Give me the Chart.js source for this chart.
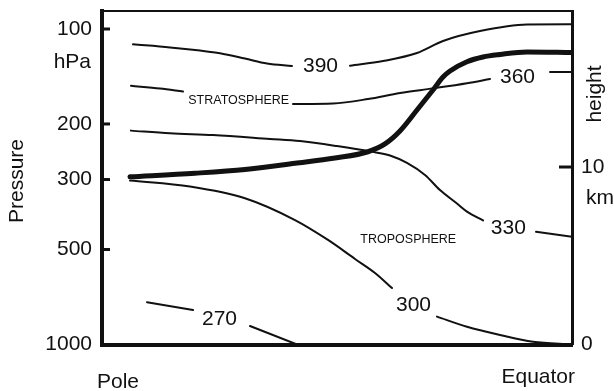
<!DOCTYPE html>
<html>
<head>
<meta charset="utf-8">
<script src="https://cdn.jsdelivr.net/npm/chart.js@4"></script>
<style>
  html, body { margin: 0; padding: 0; background: #fff; }
  #wrap { width: 614px; height: 391px; }
</style>
</head>
<body>
<div id="wrap"><canvas id="c" width="614" height="391"></canvas></div>
<script>
// Meridional cross-section from pole to equator: isentropes (K) and the tropopause.
const FONT = "'Liberation Sans', Arial, Helvetica, sans-serif";
const INK = '#111';

// Height axis is linear in km; pressure follows p = 1000 hPa * exp(-z / H).
const SCALE_HEIGHT_KM = 7.72;
const TOP_KM = 18.79;

// Latitude (deg) and height (km) along each isentrope; a null leaves room for its label.
const lat390 = [84.06, 76.98, 71.23, 67.40, 62.62, 58.40, 53.62, 48.16, 42.51, 36.19, 29.68, 24.70, 17.62, 8.62, 0];
const km390  = [16.91, 16.74, 16.56, 16.41, 16.11, 15.83, 15.69, null, 15.71, 15.97, 16.42, 17.10, 17.66, 18.03, 18.04];

const lat360 = [84.45, 78.89, 74.49, 63.82, 53.43, 45.77, 39.06, 32.94, 26.62, 20.11, 15.70, 10.44, 4.21, 0];
const km360  = [14.58, 14.42, 14.25, null, 13.55, 13.58, 13.83, 14.17, 14.43, 14.72, 14.96, null, 15.35, 15.35];

const lat330 = [84.45, 76.98, 68.74, 57.83, 52.09, 45.00, 38.49, 34.85, 31.60, 28.15, 25.28, 22.02, 20.11, 17.04, 12.20, 6.89, 0];
const km330  = [12.05, 11.90, 11.80, 11.58, 11.46, 11.18, 10.87, 10.65, 10.23, 9.55, 8.70, 7.94, 7.49, 6.99, null, 6.35, 6.07];

const lat300 = [84.64, 73.15, 62.62, 53.04, 46.72, 41.55, 37.72, 34.47, 30.35, 25.85, 20.11, 13.79, 7.47, 0];
const km300  = [9.24, 8.90, 8.24, 7.01, 5.89, 4.82, 4.03, 3.18, null, 1.57, 1.00, 0.54, 0.16, 0];

const lat270 = [81.38, 72.57, 67.50, 61.66, 52.66];
const km270  = [2.38, 1.94, null, 1.04, 0];

// Tropopause
const latTropopause = [84.64, 72.19, 62.62, 53.04, 45.38, 39.06, 35.81, 32.94, 29.68, 26.62, 24.70, 23.36, 20.11, 17.04, 13.79, 8.62, 0];
const kmTropopause  = [9.45, 9.65, 9.86, 10.21, 10.51, 10.86, 11.30, 12.03, 13.21, 14.34, 15.07, 15.41, 15.93, 16.20, 16.34, 16.48, 16.45];

// Potential temperature labels and where they sit (lat, km)
const thetaLabels = ['390', '360', '330', '300', '270'];
const thetaLabelLat = [48.16, 10.44, 12.20, 30.35, 67.50];
const thetaLabelKm = [15.66, 15.04, 6.55, 2.20, 1.45];

const layerNames = ['STRATOSPHERE', 'TROPOSPHERE'];
const layerLat = [63.82, 31.35];
const layerKm = [13.74, 5.94];

const pressureTicks = [100, 200, 300, 500, 1000];
const heightTicks = [0, 10];

function curve(lat, km, width) {
  return {
    data: lat.map((v, i) => ({ x: v, y: km[i] })),
    borderColor: INK,
    borderWidth: width,
    pointRadius: 0,
    pointHoverRadius: 0,
    fill: false,
    cubicInterpolationMode: 'monotone',
    borderCapStyle: 'round',
    borderJoinStyle: 'round',
    xAxisID: 'x',
    yAxisID: 'yH'
  };
}

const annotate = {
  id: 'annotate',
  afterDraw(chart) {
    const { ctx, chartArea: a, scales: { x, yH, yP } } = chart;
    ctx.save();
    ctx.fillStyle = INK;
    ctx.strokeStyle = INK;

    // inward tick marks
    ctx.lineWidth = 3;
    pressureTicks.filter(p => p < 1000).forEach(p => {
      const y = yP.getPixelForValue(p);
      ctx.beginPath(); ctx.moveTo(a.left, y); ctx.lineTo(a.left + 8, y); ctx.stroke();
    });
    heightTicks.filter(h => h > 0).forEach(h => {
      const y = yH.getPixelForValue(h);
      ctx.beginPath(); ctx.moveTo(a.right - 13, y); ctx.lineTo(a.right, y); ctx.stroke();
    });

    // isentrope labels
    ctx.textAlign = 'center';
    ctx.textBaseline = 'middle';
    ctx.font = `21px ${FONT}`;
    thetaLabels.forEach((t, i) => {
      ctx.fillText(t, x.getPixelForValue(thetaLabelLat[i]), yH.getPixelForValue(thetaLabelKm[i]));
    });

    // layer names
    ctx.font = `12.5px ${FONT}`;
    layerNames.forEach((t, i) => {
      ctx.fillText(t, x.getPixelForValue(layerLat[i]), yH.getPixelForValue(layerKm[i]));
    });

    // units and axis names
    ctx.font = `21px ${FONT}`;
    ctx.textAlign = 'right';
    ctx.fillText('hPa', a.left - 11, yP.getPixelForValue(100) + 33);
    ctx.textAlign = 'left';
    ctx.fillText('km', a.right + 14, yH.getPixelForValue(10) + 31);

    ctx.textAlign = 'left';
    ctx.fillText('Pole', a.left - 5, a.bottom + 37.5);
    ctx.textAlign = 'right';
    ctx.fillText('Equator', a.right + 3, a.bottom + 32.5);

    ctx.textAlign = 'center';
    ctx.save();
    ctx.translate(17.5, 181);
    ctx.rotate(-Math.PI / 2);
    ctx.fillText('Pressure', 0, 0);
    ctx.restore();

    ctx.save();
    ctx.translate(595, 94);
    ctx.rotate(-Math.PI / 2);
    ctx.fillText('height', 0, 0);
    ctx.restore();

    ctx.restore();
  }
};

const noGrid = { display: false, drawTicks: false, tickLength: 0 };

// fixed axis sizes, no extra room reserved for overhanging tick labels
function fixSize(w, h) {
  return s => {
    if (w !== null) s.width = w;
    if (h !== null) s.height = h;
    s.paddingTop = 0; s.paddingBottom = 0; s.paddingLeft = 0; s.paddingRight = 0;
  };
}

new Chart(document.getElementById('c'), {
  type: 'line',
  data: {
    datasets: [
      curve(lat390, km390, 2),
      curve(lat360, km360, 2),
      curve(lat330, km330, 2),
      curve(lat300, km300, 2),
      curve(lat270, km270, 2),
      curve(latTropopause, kmTropopause, 5)
    ]
  },
  options: {
    responsive: false,
    animation: false,
    devicePixelRatio: 1,
    layout: { padding: 0 },
    plugins: { legend: { display: false }, tooltip: { enabled: false } },
    events: [],
    scales: {
      x: {
        type: 'linear', position: 'bottom', min: 0, max: 90, reverse: true,
        ticks: { display: false },
        grid: noGrid,
        border: { display: true, width: 4, color: INK },
        afterFit: fixSize(null, 46.5)
      },
      xTop: {
        type: 'linear', position: 'top', min: 0, max: 90, reverse: true,
        ticks: { display: false },
        grid: noGrid,
        border: { display: true, width: 2, color: INK },
        afterFit: fixSize(null, 11)
      },
      yP: {
        type: 'logarithmic', position: 'left', reverse: true,
        min: 1000 * Math.exp(-TOP_KM / SCALE_HEIGHT_KM), max: 1000,
        afterBuildTicks: s => { s.ticks = pressureTicks.map(v => ({ value: v })); },
        ticks: {
          autoSkip: false, padding: 10, color: INK,
          font: { family: FONT, size: 21 },
          callback: v => String(v)
        },
        grid: noGrid,
        border: { display: true, width: 4, color: INK },
        afterFit: fixSize(102, null)
      },
      yH: {
        type: 'linear', position: 'right', min: 0, max: TOP_KM,
        afterBuildTicks: s => { s.ticks = heightTicks.map(v => ({ value: v })); },
        ticks: {
          autoSkip: false, padding: 9, color: INK,
          font: { family: FONT, size: 21 },
          callback: v => String(v)
        },
        grid: noGrid,
        border: { display: true, width: 3, color: INK },
        afterFit: fixSize(42, null)
      }
    }
  },
  plugins: [annotate]
});
</script>
</body>
</html>
